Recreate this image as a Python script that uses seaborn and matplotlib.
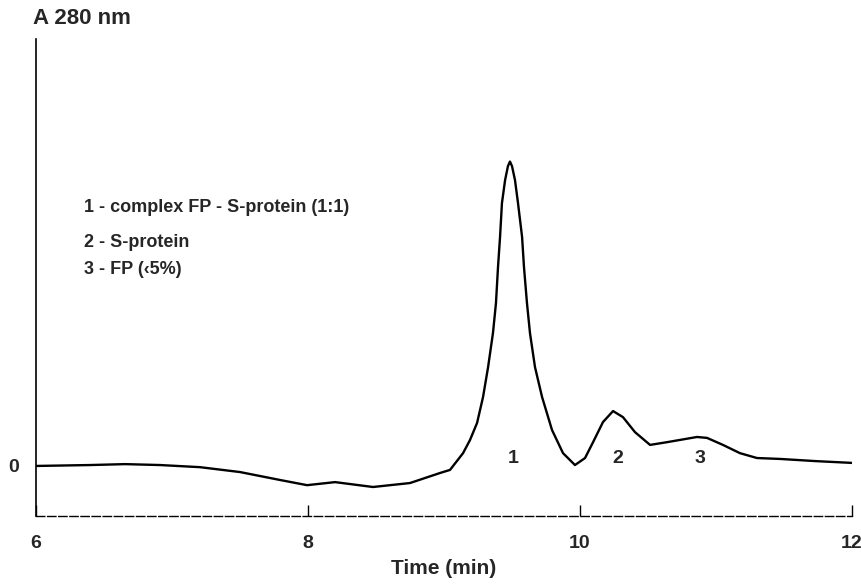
import matplotlib
matplotlib.use('Agg')
import matplotlib.pyplot as plt
import seaborn as sns
import pandas as pd

# Cromatograma (A 280 nm)
tempo = [6.000, 6.397, 6.654, 6.912, 7.206, 7.500, 7.794, 7.993, 8.199, 8.478,
         8.750, 8.971, 9.044, 9.140, 9.191, 9.243, 9.287, 9.324, 9.360, 9.382,
         9.397, 9.412, 9.426, 9.449, 9.470, 9.485, 9.500, 9.522, 9.544, 9.574,
         9.588, 9.610, 9.632, 9.669, 9.721, 9.794, 9.875, 9.963, 10.037,
         10.096, 10.169, 10.243, 10.316, 10.404, 10.515, 10.640, 10.860,
         10.934, 11.051, 11.176, 11.301, 11.471, 11.728, 12.000]
absorbancia = [-0.003, 0.000, 0.003, 0.000, -0.007, -0.023, -0.049, -0.066,
               -0.056, -0.072, -0.059, -0.026, -0.016, 0.039, 0.082, 0.138,
               0.223, 0.321, 0.433, 0.531, 0.649, 0.748, 0.859, 0.934, 0.980,
               0.995, 0.980, 0.934, 0.859, 0.748, 0.649, 0.531, 0.433, 0.321,
               0.223, 0.115, 0.039, 0.000, 0.023, 0.075, 0.141, 0.177, 0.157,
               0.108, 0.066, 0.075, 0.092, 0.089, 0.066, 0.039, 0.023, 0.020,
               0.013, 0.007]

picos = ['1', '2', '3']
pos_picos = [9.51, 10.28, 10.88]

legenda = ['1 - complex FP - S-protein (1:1)',
           '2 - S-protein',
           '3 - FP (‹5%)']

df = pd.DataFrame({'tempo': tempo, 'abs': absorbancia})

sns.set_style('white')
plt.rcParams['font.family'] = ['Liberation Sans', 'DejaVu Sans']
plt.rcParams['font.weight'] = 'bold'

fig = plt.figure(figsize=(8.62, 5.87), dpi=100)
ax = fig.add_axes([0.0418, 0.121, 0.9466, 0.8126])

sns.lineplot(data=df, x='tempo', y='abs', color='black', linewidth=1.7, ax=ax)

ax.set_xlim(6, 12)
ax.set_ylim(-0.167, 1.397)

# eixos
ax.spines['top'].set_visible(False)
ax.spines['right'].set_visible(False)
ax.spines['left'].set_color('black')
ax.spines['left'].set_linewidth(1.2)
ax.spines['bottom'].set_color('black')
ax.spines['bottom'].set_linewidth(1.0)
ax.spines['bottom'].set_linestyle((0, (6, 2)))

ax.set_xticks([6, 8, 10, 12])
ax.set_xticklabels(['6', '8', '10', '12'], fontsize=14, fontweight='bold')
ax.tick_params(axis='x', bottom=True, direction='in', length=8, width=1,
               color='black', pad=14)
ax.set_yticks([0])
ax.set_yticklabels(['0'], fontsize=14, fontweight='bold')
ax.tick_params(axis='y', left=False, length=0, pad=12)

ax.set_xlabel('Time (min)', fontsize=15, fontweight='bold', labelpad=5)
ax.set_ylabel('')
fig.text(0.038, 0.969, 'A 280 nm', fontsize=16, fontweight='bold',
         ha='left', va='center')

for p, t in zip(picos, pos_picos):
    ax.text(t, 0.023, p, fontsize=14, fontweight='bold', ha='center', va='center')

for i, linha in enumerate(legenda):
    ax.text(6.35, [0.846, 0.731, 0.640][i], linha, fontsize=13,
            fontweight='bold', ha='left', va='center')

plt.savefig('out.png', dpi=100)
